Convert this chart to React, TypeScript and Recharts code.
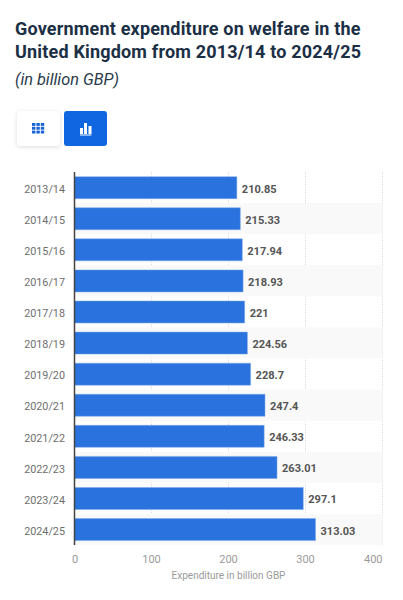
import React from "react";
import { BarChart, Bar, XAxis, YAxis, CartesianGrid, LabelList, ReferenceArea } from "recharts";

const categories = ["2013/14","2014/15","2015/16","2016/17","2017/18","2018/19","2019/20","2020/21","2021/22","2022/23","2023/24","2024/25"];
const values = [210.85,215.33,217.94,218.93,221,224.56,228.7,247.4,246.33,263.01,297.1,313.03];
const xTicks = [0,100,200,300,400];
const stripes = ["2014/15","2016/17","2018/19","2020/21","2022/23","2024/25"];
const rows = categories.map((c,i)=>({category:c,value:values[i]}));
const font = "Roboto, sans-serif";

const XTick = (props: any) => {
  const { x, y, payload } = props;
  const v = payload.value;
  const anchor = v === 0 ? "start" : v === 400 ? "end" : "middle";
  const dx = v === 0 ? -2.5 : 0;
  return <text x={x + dx} y={y} dy={9.5} textAnchor={anchor} fontSize={11} fill="#9a9a9a" fontFamily={font}>{v}</text>;
};

const ValueLabel = (props: any) => {
  const { x, y, width, height, value } = props;
  return <text x={x + width + 5} y={y + height / 2 + 5} fontSize={11} fontWeight={700} fill="#555555" fontFamily={font}>{value}</text>;
};

export default function App(){
  return (
    <div style={{position:"absolute",left:0,top:0,width:403,height:600,background:"#fff",overflow:"hidden",fontFamily:font}}>
      <div style={{position:"absolute",left:15,top:18,width:385,fontSize:18,lineHeight:"22.5px",fontWeight:700,color:"#1b2f45",letterSpacing:0.18,whiteSpace:"nowrap"}}>
        Government expenditure on welfare in the<br/>United Kingdom from 2013/14 to 2024/25
      </div>
      <div style={{position:"absolute",left:15,top:69,fontSize:16.3,lineHeight:"22px",fontStyle:"italic",color:"#2b3a4a"}}>(in billion GBP)</div>
      <div style={{position:"absolute",left:17,top:111,width:43,height:35,background:"#fff",borderRadius:3,boxShadow:"0 1px 4px rgba(0,0,0,0.14)"}}>
        <svg width="43" height="35" style={{display:"block"}}>
          {[0,1,2].flatMap(r=>[0,1,2].map(c=><rect key={r+"-"+c} x={15+c*4.4} y={12+r*3.8} width={3.4} height={2.9} fill="#1763d6"/>))}
        </svg>
      </div>
      <div style={{position:"absolute",left:64,top:111,width:43,height:35,background:"#0f66e0",borderRadius:3}}>
        <svg width="43" height="35" style={{display:"block"}}>
          <rect x={16} y={17} width={3} height={6} fill="#fff"/><rect x={20} y={12} width={3} height={11} fill="#fff"/><rect x={24.5} y={15} width={3} height={8} fill="#fff"/><rect x={16} y={23.5} width={11.5} height={1} fill="#fff"/>
        </svg>
      </div>
      <div style={{position:"absolute",left:0,top:0}}>
        <BarChart width={403} height={600} data={rows} layout="vertical" barCategoryGap="15%" margin={{top:172,right:20.5,bottom:0,left:0}}>
          {stripes.map(s=><ReferenceArea key={s} y1={s} y2={s} fill="#f9f9f9" fillOpacity={1} stroke="none" ifOverflow="visible"/>)}
          <CartesianGrid horizontal={false} stroke="#d9d9d9" strokeDasharray="1 1"/>
          <XAxis type="number" dataKey="value" domain={[0,400]} ticks={xTicks} axisLine={false} tickLine={false} height={55} interval={0}
            tick={<XTick/>}
            label={{value:"Expenditure in billion GBP",position:"insideTop",offset:27,fontSize:10,fill:"#9a9a9a",fontFamily:font}}/>
          <YAxis type="category" dataKey="category" width={74.5} axisLine={{stroke:"#444",strokeWidth:1.5}} tickLine={false} tickMargin={3.5}
            tick={{fontSize:10.8,fill:"#6e6e6e",fontFamily:font,dy:1.5}} interval={0}/>
          <Bar dataKey="value" fill="#2a72de" stroke="#7fa8e8" strokeWidth={0.5} isAnimationActive={false}>
            <LabelList dataKey="value" content={<ValueLabel/>}/>
          </Bar>
        </BarChart>
      </div>
    </div>
  );
}
